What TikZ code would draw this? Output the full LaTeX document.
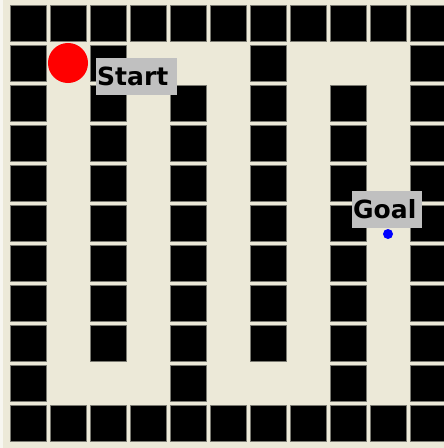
\documentclass[tikz,border=0pt]{standalone}
\usepackage{xcolor}
\usepackage{fontspec}
\newfontfamily\labelfont{DejaVu Sans}
\usepackage{tikz}
\usetikzlibrary{positioning}
\definecolor{mazebg}{HTML}{ECE9D8}
\definecolor{mazeedge}{HTML}{F7F6F0}
\definecolor{wallgray}{HTML}{7A7A72}
\definecolor{tagbg}{HTML}{C0C0C0}
\tikzset{
  wall/.style={fill=black, draw=wallgray, line width=0.6pt},
  tagbox/.style={fill=tagbg, inner xsep=0.03cm, inner ysep=0pt, minimum height=0.925cm,
    align=left, font=\labelfont\bfseries\fontsize{17.8}{20}\selectfont, text=black}
}

\begin{document}
\begin{tikzpicture}[x=0.025cm, y=-0.025cm]
\useasboundingbox (0,0) rectangle (444,448);
\clip (0,0) rectangle (444,448);
\fill[mazebg] (0,0) rectangle (444,448);
\fill[mazeedge] (0,0) rectangle (3,448);

% Outer walls: top and bottom rows, left and right columns
\foreach \i in {0,...,10} {
  \draw[wall] (10+40*\i,5) rectangle ++(36,36);
  \draw[wall] (10+40*\i,405) rectangle ++(36,36);
}
\foreach \j in {1,...,9} {
  \draw[wall] (10,5+40*\j) rectangle ++(36,36);
  \draw[wall] (410,5+40*\j) rectangle ++(36,36);
}

% Inner walls hanging from the top
\foreach \c in {2,6} {
  \foreach \j in {1,...,8}
    \draw[wall] (10+40*\c,5+40*\j) rectangle ++(36,36);
}
% Inner walls standing on the bottom
\foreach \c in {4,8} {
  \foreach \j in {2,...,9}
    \draw[wall] (10+40*\c,5+40*\j) rectangle ++(36,36);
}

% Start and goal markers
\node[circle, fill=red, inner sep=0pt, minimum size=1cm] (robot) at (68,63) {};
\node[tagbox, text width=1.965cm] (start) at (136.5,76.5) {Start};
\node[tagbox, text width=1.69cm] (goal) at (387,209.5) {Goal};
\node[circle, fill=blue, inner sep=0pt, minimum size=0.25cm] (target) at (388,234) {};

\end{tikzpicture}
\end{document}
